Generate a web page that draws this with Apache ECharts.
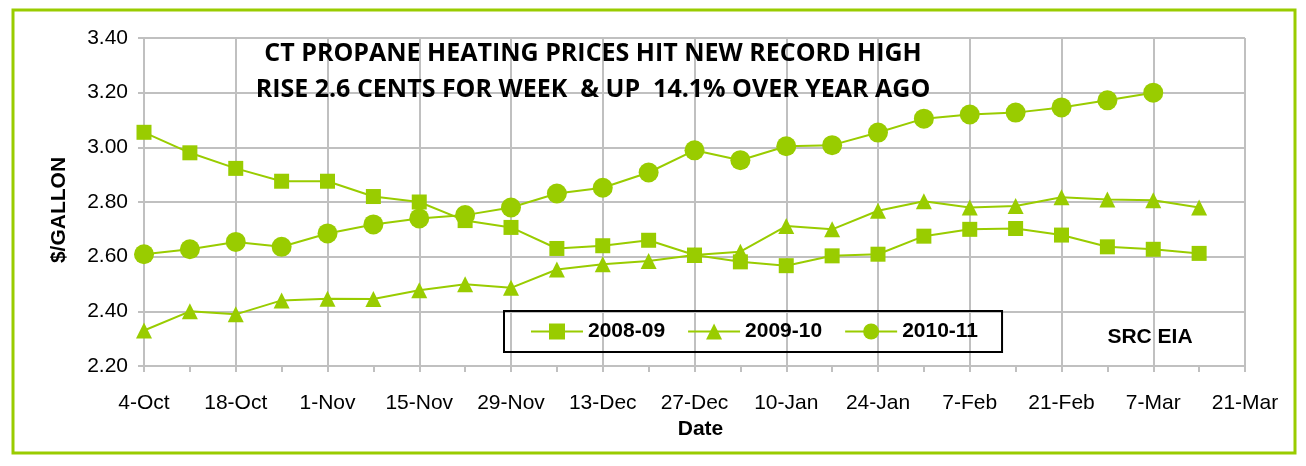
<!DOCTYPE html>
<html>
<head>
<meta charset="utf-8">
<title>CT propane heating prices</title>
<script src="https://cdn.jsdelivr.net/npm/echarts@6/dist/echarts.min.js"></script>
<style>
html, body { margin: 0; padding: 0; background: #fff; }
#main { width: 1306px; height: 466px; }
</style>
</head>
<body>
<div id="main"></div>
<script>
// weekly categories, labels every other week
const weeks = ['4-Oct', '11-Oct', '18-Oct', '25-Oct', '1-Nov', '8-Nov', '15-Nov', '22-Nov', '29-Nov',
  '6-Dec', '13-Dec', '20-Dec', '27-Dec', '3-Jan', '10-Jan', '17-Jan', '24-Jan', '31-Jan',
  '7-Feb', '14-Feb', '21-Feb', '28-Feb', '7-Mar', '14-Mar', '21-Mar'];

// $/gallon
const price0809 = [3.055, 2.98, 2.923, 2.876, 2.876, 2.82, 2.80, 2.732, 2.707, 2.63, 2.64, 2.66,
  2.606, 2.581, 2.567, 2.603, 2.609, 2.675, 2.70, 2.703, 2.679, 2.636, 2.627, 2.612];
const price0910 = [2.33, 2.40, 2.389, 2.44, 2.446, 2.445, 2.477, 2.499, 2.486, 2.553, 2.572, 2.584,
  2.606, 2.618, 2.712, 2.70, 2.768, 2.803, 2.78, 2.785, 2.817, 2.809, 2.806, 2.78];
const price1011 = [2.609, 2.627, 2.654, 2.636, 2.685, 2.718, 2.74, 2.752, 2.78, 2.831, 2.852, 2.908,
  2.989, 2.953, 3.004, 3.008, 3.054, 3.105, 3.12, 3.127, 3.146, 3.172, 3.20];

const green = '#99cc00';
const gridGrey = '#c0c0c0';
const arial = 'Liberation Sans, Arial, sans-serif';

let myChart = echarts.init(document.getElementById('main'));

const makeLine = (name, data, symbol, size) => ({
  name: name,
  type: 'line',
  data: data,
  symbol: symbol,
  symbolSize: size,
  showAllSymbol: true,
  lineStyle: { color: green, width: 2 },
  itemStyle: { color: green },
  emphasis: { disabled: true }
});

let option = {
  animation: false,
  title: {
    text: 'CT PROPANE HEATING PRICES HIT NEW RECORD HIGH\nRISE 2.6 CENTS FOR WEEK  & UP  14.1% OVER YEAR AGO',
    left: 588,
    top: 31,
    textAlign: 'center',
    textStyle: {
      fontFamily: 'Open Sans',
      fontWeight: 'bold',
      fontSize: 25,
      lineHeight: 36,
      color: '#000'
    }
  },
  legend: {
    data: ['2008-09', '2009-10', '2010-11'],
    left: 504,
    top: 311,
    orient: 'horizontal',
    padding: [10, 24, 10, 26],
    itemGap: 22,
    itemWidth: 52,
    itemHeight: 20,
    borderColor: '#000',
    borderWidth: 2,
    textStyle: { fontFamily: arial, fontWeight: 'bold', fontSize: 21, color: '#000' }
  },
  grid: { left: 144, right: 61, top: 38, bottom: 100 },
  xAxis: {
    type: 'category',
    data: weeks,
    boundaryGap: false,
    name: 'Date',
    nameLocation: 'middle',
    nameGap: 42,
    nameTextStyle: {
      fontFamily: arial, fontWeight: 'bold', fontSize: 21, color: '#000',
      padding: [0, 0, 0, 12]
    },
    axisLine: { lineStyle: { color: gridGrey, width: 2 } },
    axisTick: { show: true, interval: 0, length: 6, lineStyle: { color: gridGrey, width: 2 } },
    axisLabel: { interval: 1, margin: 27, fontFamily: arial, fontSize: 21, color: '#000' },
    splitLine: { show: true, interval: 1, lineStyle: { color: gridGrey, width: 2 } }
  },
  yAxis: {
    type: 'value',
    min: 2.2,
    max: 3.4,
    interval: 0.2,
    name: '$/GALLON',
    nameLocation: 'middle',
    nameRotate: 90,
    nameGap: 74,
    nameTextStyle: {
      fontFamily: arial, fontWeight: 'bold', fontSize: 21, color: '#000',
      padding: [0, 16, 0, 0]
    },
    axisLine: { show: true, lineStyle: { color: gridGrey, width: 2 } },
    axisTick: { show: true, length: 6, lineStyle: { color: gridGrey, width: 2 } },
    axisLabel: {
      margin: 16,
      fontFamily: arial,
      fontSize: 21,
      color: '#000',
      formatter: v => v.toFixed(2)
    },
    splitLine: { show: true, lineStyle: { color: gridGrey, width: 2 } }
  },
  graphic: [
    {
      type: 'rect',
      silent: true,
      shape: { x: 13, y: 10, width: 1282, height: 443 },
      style: { fill: 'none', stroke: green, lineWidth: 3 }
    },
    {
      type: 'text',
      x: 1150,
      y: 337,
      style: {
        text: 'SRC EIA',
        align: 'center',
        verticalAlign: 'middle',
        fontFamily: arial,
        fontWeight: 'bold',
        fontSize: 21,
        fill: '#000'
      }
    }
  ],
  series: [
    makeLine('2008-09', price0809, 'rect', 15),
    makeLine('2009-10', price0910, 'triangle', 16),
    makeLine('2010-11', price1011, 'circle', 20)
  ]
};

myChart.setOption(option);
</script>
</body>
</html>
